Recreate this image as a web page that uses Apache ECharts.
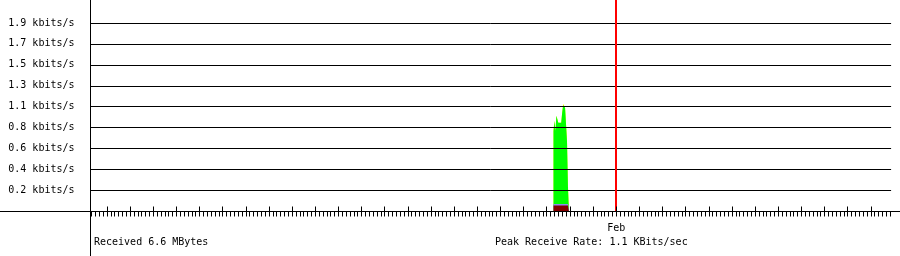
<!DOCTYPE html>
<html><head><meta charset="utf-8">
<script src="https://cdn.jsdelivr.net/npm/echarts@6/dist/echarts.min.js"></script>
<style>html,body{margin:0;padding:0;background:#fff}#c{width:900px;height:256px}</style>
</head><body><div id="c"></div>
<script>
// ---- data ----
// time in hours relative to Feb 1 00:00
const hours = [-65,-64,-63,-62,-61,-60,-59,-58,-57,-56,-55,-54,-53,-52,-51,-50,-49];
// receive rate layers, each value is the top of that layer (kbits/s)
const peakTop  = [0.82,0.91,0.81,0.96,0.98,0.89,0.91,0.89,0.91,0.99,1.08,1.07,1.04,1.03,0.72,0.26,0];
const greenTop = [0.805,0.91,0.81,0.96,0.965,0.89,0.895,0.89,0.91,0.99,1.065,1.07,1.04,1.03,0.705,0.245,0];
const lineTop  = [0.075,0.075,0.075,0.075,0.075,0.075,0.075,0.075,0.075,0.075,0.075,0.075,0.075,0.075,0.075,0.075,0];
const baseTop  = [0.06,0.06,0.06,0.06,0.06,0.06,0.06,0.06,0.06,0.06,0.06,0.06,0.06,0.06,0.06,0.06,0];
const yTickLabels = ['0.2 kbits/s','0.4 kbits/s','0.6 kbits/s','0.8 kbits/s','1.1 kbits/s','1.3 kbits/s','1.5 kbits/s','1.7 kbits/s','1.9 kbits/s'];
const Y_STEP = 0.21;
const Y_MAX = 2.12;
const X_MIN = -545, X_MAX = 285;   // hours around Feb 1
const FEB_HOUR = 0;
const monthLabel = 'Feb';
const receivedText = 'Received 6.6 MBytes';
const peakText = 'Peak Receive Rate: 1.1 KBits/sec';

// ---- ticks ----
const yTicks = yTickLabels.map((_, i) => +(Y_STEP * (i + 1)).toFixed(4));
const minorTicks = [];
for (let h = Math.ceil(X_MIN / 4) * 4; h <= X_MAX; h += 4) minorTicks.push(h);
const majorTicks = [];
for (let h = Math.ceil(X_MIN / 24) * 24; h <= X_MAX; h += 24) majorTicks.push(h);

const FONT = 'DejaVu Sans Mono';
const pair = arr => hours.map((h, i) => [h, arr[i]]);

const chart = echarts.init(document.getElementById('c'), null, {renderer: 'canvas'});
function layer(name, arr, color, extra) {
  return Object.assign({
    name, type: 'line', step: 'end', data: pair(arr),
    xAxisIndex: 0, yAxisIndex: 0, symbol: 'none', showSymbol: false,
    lineStyle: {width: 0}, areaStyle: {color, opacity: 1, origin: 'start'}, z: 2,
    emphasis: {disabled: true}, silent: true
  }, extra || {});
}
chart.setOption({
  animation: false,
  backgroundColor: '#ffffff',
  title: [
    {text: receivedText, left: 94, top: 237, padding: 0,
     textStyle: {fontFamily: FONT, fontSize: 10, fontWeight: 'normal', color: '#000'}},
    {text: peakText, left: 495, top: 237, padding: 0,
     textStyle: {fontFamily: FONT, fontSize: 10, fontWeight: 'normal', color: '#000'}}
  ],
  grid: [
    {left: 90.5, right: 8.9, top: 0, bottom: 44.5},
    {left: 0, right: 0, top: 0, bottom: 44.5},
    {left: 90.5, right: 0, top: 0, bottom: 0}
  ],
  xAxis: [
    {gridIndex: 0, type: 'value', min: X_MIN, max: X_MAX, position: 'bottom', z: 5,
     axisLine: {show: false}, splitLine: {show: false}, axisLabel: {show: false},
     axisTick: {show: true, customValues: minorTicks, inside: false, length: 5,
                lineStyle: {color: '#000', width: 1}}},
    {gridIndex: 0, type: 'value', min: X_MIN, max: X_MAX, position: 'bottom', z: 5,
     axisLine: {show: false}, splitLine: {show: false},
     axisTick: {show: true, customValues: majorTicks, inside: true, length: 5,
                lineStyle: {color: '#000', width: 1}},
     axisLabel: {show: true, customValues: [FEB_HOUR], formatter: () => monthLabel,
                 margin: 12, color: '#000', fontFamily: FONT, fontSize: 10}},
    {gridIndex: 1, type: 'value', position: 'bottom', z: 5,
     axisLine: {show: true, lineStyle: {color: '#000', width: 1}},
     axisTick: {show: false}, axisLabel: {show: false}, splitLine: {show: false}},
    {gridIndex: 2, type: 'value', show: false}
  ],
  yAxis: [
    {gridIndex: 0, type: 'value', min: 0, max: Y_MAX, z: 5,
     axisLine: {show: false},
     axisTick: {show: false, customValues: yTicks},
     splitLine: {show: true, showMinLine: true, showMaxLine: true,
                 lineStyle: {color: '#000', width: 1}},
     axisLabel: {show: true, customValues: yTicks, margin: 16, color: '#000', fontFamily: FONT, fontSize: 10,
       formatter: v => {
         const k = Math.round(v / Y_STEP);
         return (k >= 1 && k <= yTickLabels.length) ? yTickLabels[k - 1] : '';
       }}},
    {gridIndex: 1, type: 'value', show: false},
    {gridIndex: 2, type: 'value', position: 'left', z: 5,
     axisLine: {show: true, lineStyle: {color: '#000', width: 1}},
     axisTick: {show: false}, axisLabel: {show: false}, splitLine: {show: false}}
  ],
  series: [
    layer('peak', peakTop, '#ffff00', {
      markLine: {silent: true, symbol: ['none', 'none'], label: {show: false},
                 lineStyle: {color: '#ff0000', width: 2, type: 'solid'},
                 emphasis: {disabled: true}, data: [{xAxis: FEB_HOUR}]}
    }),
    layer('in', greenTop, '#00ff00'),
    layer('line', lineTop, '#8c8cf0'),
    layer('base', baseTop, '#800000')
  ]
});
</script></body></html>
